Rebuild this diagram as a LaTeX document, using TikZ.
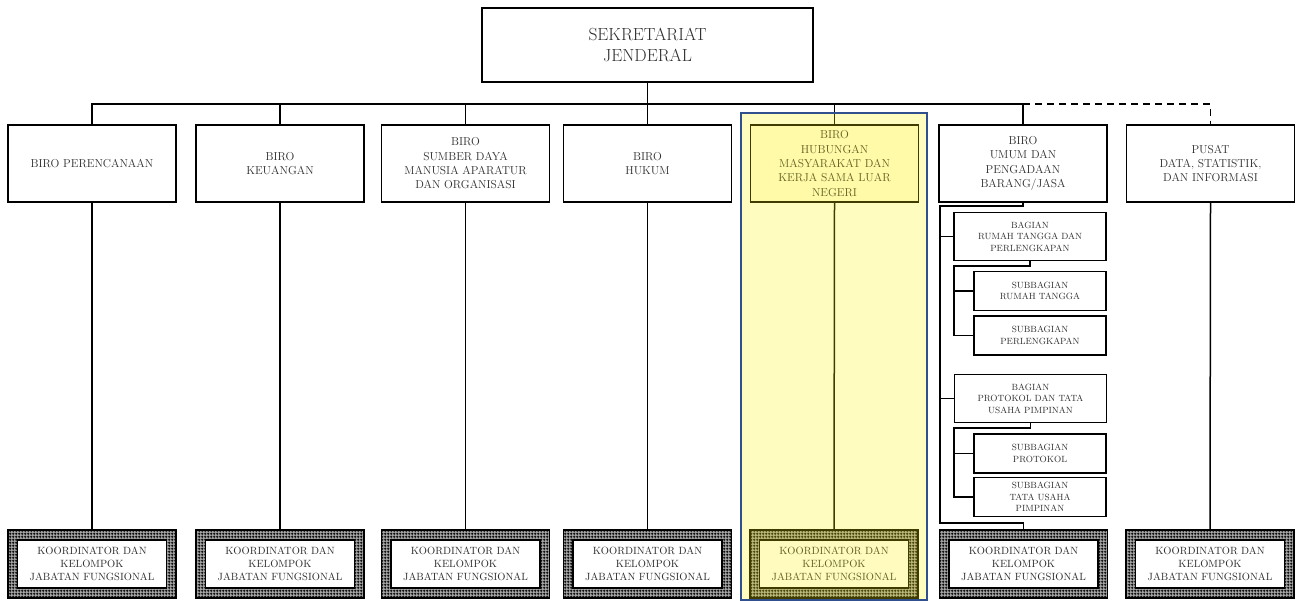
\documentclass[tikz,border=0pt]{standalone}
\usepackage{tikz}
\usetikzlibrary{positioning,calc,patterns.meta}

\definecolor{hlblue}{HTML}{2F4F8F}
\definecolor{txtgray}{HTML}{2E2E2E}

\tikzdeclarepattern{
  name=jfgrid, type=uncolored,
  bounding box={(0pt,0pt) and (3pt,3pt)},
  tile size={(3pt,3pt)},
  code={
    \draw[line width=1pt] (0pt,1.5pt) -- (3pt,1.5pt) (1.5pt,0pt) -- (1.5pt,3pt);
  }
}

\tikzset{
  topbox/.style={
    rectangle,
    draw=black, line width=1.6pt,
    fill=white,
    minimum width=331pt,
    minimum height=74pt,
    align=center,
    text=txtgray,
    font=\fontsize{17.5}{21.5}\selectfont},
  biro/.style={
    rectangle,
    draw=black, line width=1.6pt,
    fill=white,
    minimum width=168pt,
    minimum height=77pt,
    inner sep=2pt,
    align=center,
    text=txtgray,
    font=\fontsize{11.5}{14.3}\selectfont},
  bagian/.style={
    rectangle,
    draw=black, line width=1.4pt,
    fill=white,
    minimum width=152pt,
    minimum height=48pt,
    inner sep=1pt,
    align=center,
    text=txtgray,
    font=\fontsize{9}{11.5}\selectfont},
  subbag/.style={bagian, minimum width=132pt, minimum height=39pt},
  jfouter/.style={
    rectangle,
    draw=black, line width=1.2pt,
    preaction={fill=black!35},
    pattern=jfgrid, pattern color=black,
    minimum width=168pt,
    minimum height=68pt},
  jfinner/.style={
    rectangle,
    draw=black, line width=1.8pt,
    fill=white,
    minimum width=149pt,
    minimum height=48pt,
    inner sep=1pt,
    align=center,
    text=txtgray,
    font=\fontsize{10.5}{13.3}\selectfont},
  link/.style={draw, line width=1.5pt},
}

\begin{document}
\begin{tikzpicture}[x=1pt, y=-1pt]
    \useasboundingbox (0,0) rectangle (1298,600);

    %top
    \node[topbox] (sekjen) at (647.5,45) {SEKRETARIAT\\JENDERAL};
    \coordinate (bus) at (0,104);

    %biro row
    \node[biro] (perenc) at (92,163.5) {BIRO PERENCANAAN};
    \node[biro] (keu) at (280,163.5) {BIRO\\KEUANGAN};
    \node[biro] (sdm) at (465.5,163.5) {BIRO\\SUMBER DAYA\\MANUSIA APARATUR\\DAN ORGANISASI};
    \node[biro] (hukum) at (647.5,163.5) {BIRO\\HUKUM};
    \node[biro, fill=yellow!12] (humas) at (834.5,163.5) {BIRO\\HUBUNGAN\\MASYARAKAT DAN\\KERJA SAMA LUAR\\NEGERI};
    \node[biro] (umum) at (1023,163.5) {BIRO\\UMUM DAN\\PENGADAAN\\BARANG/JASA};
    \node[biro] (pusat) at (1210.5,163.5) {PUSAT\\DATA, STATISTIK,\\DAN INFORMASI};

    %biro umum
    \node[bagian] (bagrt) at (1030,236.5) {BAGIAN\\RUMAH TANGGA DAN\\PERLENGKAPAN};
    \node[subbag] (subrt) at (1040,291) {SUBBAGIAN\\RUMAH TANGGA};
    \node[subbag] (subpl) at (1040,335.5) {SUBBAGIAN\\PERLENGKAPAN};
    \node[bagian] (bagpt) at (1030.5,398.5) {BAGIAN\\PROTOKOL DAN TATA\\USAHA PIMPINAN};
    \node[subbag] (subpr) at (1040,453.5) {SUBBAGIAN\\PROTOKOL};
    \node[subbag] (subtu) at (1040,497) {SUBBAGIAN\\TATA USAHA\\PIMPINAN};

    %jabatan fungsional
    \foreach \n/\x in {1/92, 2/280, 3/465.5, 4/647.5, 5/834, 6/1023.5, 7/1210}{
      \node[jfouter] (jf\n) at (\x,564) {};
      \node[jfinner] at (jf\n) {KOORDINATOR DAN\\KELOMPOK\\JABATAN FUNGSIONAL};
    }

    %connections
    \draw[link] (sekjen) -- (hukum);
    \draw[link] (perenc.north) |- (umum.north |- bus) -- (umum.north);
    \foreach \b in {keu, sdm, humas}
      \draw[link] (\b.north) -- (\b.north |- bus);
    \draw[link, dash pattern=on 7pt off 5pt] (umum.north |- bus) -| (pusat.north);

    \foreach \b/\j in {perenc/jf1, keu/jf2, sdm/jf3, hukum/jf4, humas/jf5, pusat/jf7}
      \draw[link] (\b.south) -- (\j.north);

    \coordinate (utop) at (940,206);
    \coordinate (ubot) at (940,523);
    \draw[link] (umum.south) |- (utop) -- (ubot) -| (jf6.north);
    \draw[link] (bagrt.west -| utop) -- (bagrt.west);
    \draw[link] (bagpt.west -| utop) -- (bagpt.west);

    \coordinate (rtl) at (954,266);
    \draw[link] (bagrt.south) |- (rtl) |- (subpl.west);
    \draw[link] (subrt.west -| rtl) -- (subrt.west);

    \coordinate (ptl) at (954,428);
    \draw[link] (bagpt.south) |- (ptl) |- (subtu.west);
    \draw[link] (subpr.west -| ptl) -- (subpr.west);

    %highlight
    \fill[yellow, opacity=.25] (741,113) rectangle (927,600);
    \draw[hlblue, line width=1.3pt] (741,113) rectangle (927,600);
\end{tikzpicture}
\end{document}
